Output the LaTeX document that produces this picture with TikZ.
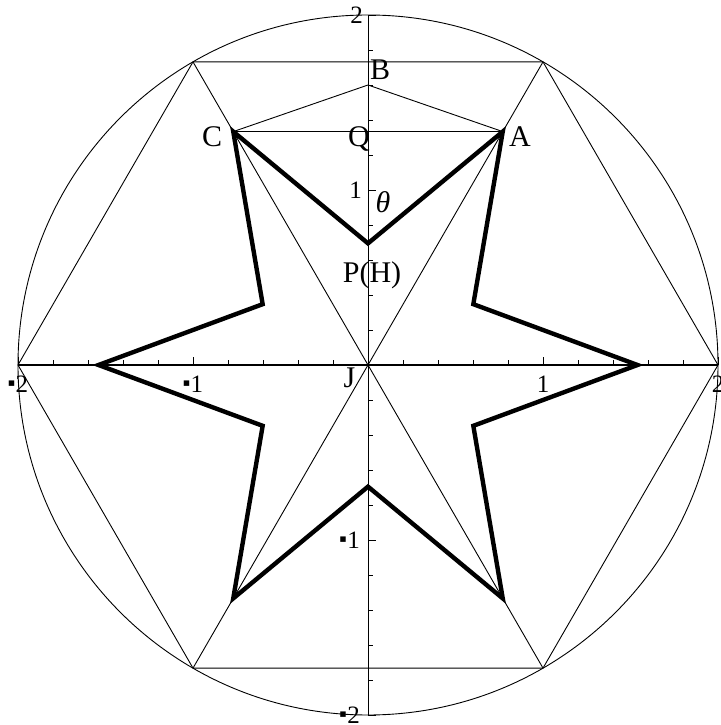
\documentclass[tikz,border=0pt]{standalone}
\usepackage{fontspec}
\setmainfont{Liberation Serif}
\newfontfamily\dejavu{DejaVu Sans}
\newcommand\mns{\raisebox{6pt}{\dejavu\fontsize{11}{11}\selectfont ▪}\hspace{0.5pt}}
\begin{document}
\begin{tikzpicture}[x=175pt,y=175pt,
  thinline/.style={line width=0.9pt},
  starline/.style={line width=4.4pt, line join=miter},
  axisline/.style={line width=1.2pt},
  ptlabel/.style={font=\fontsize{30}{30}\selectfont, inner sep=0pt, anchor=base},
  ticklabel/.style={font=\fontsize{25}{25}\selectfont, inner sep=0pt},
]
\useasboundingbox (-2.10286,-2.05714) rectangle (2.01143,2.08571);
% hexagon vertices
\foreach \k in {0,...,5} {\coordinate (H\k) at (\k*60:2);}
% star vertices
\foreach \k in {0,...,5} {
  \coordinate (So\k) at (\k*60:1.54);
  \coordinate (Si\k) at (\k*60+30:0.695);
}
\coordinate (A) at (So1);
\coordinate (C) at (So2);
\coordinate (P) at (Si1);
\coordinate (B) at (0,1.6);
\coordinate (J) at (0,0);
\coordinate (Xl) at (-2,0);
\coordinate (Xr) at (2,0);
\coordinate (Yb) at (0,-2);
\coordinate (Yt) at (0,2);
% circle
\draw[thinline] (J) circle (2);
% hexagon
\draw[thinline] (H0) -- (H1) -- (H2) -- (H3) -- (H4) -- (H5) -- cycle;
% diameters
\draw[thinline] (H1) -- (H4);
\draw[thinline] (H2) -- (H5);
% triangle CBA
\draw[thinline] (C) -- (B) -- (A);
\draw[thinline] (C) -- (A);
% axes
\draw[axisline] (Xl) -- (Xr);
\draw[thinline] (Yb) -- (Yt);
\foreach \t in {-1.8,-1.6,-1.4,-1.2,-0.8,-0.6,-0.4,-0.2,0.2,0.4,0.6,0.8,1.2,1.4,1.6,1.8} {
  \draw[thinline] (\t,0) -- ++(0,4.5pt);
  \draw[thinline] (0,\t) -- ++(4.5pt,0);
}
\foreach \t in {-2,-1,1,2} {
  \draw[thinline] (\t,0) -- ++(0,7.5pt);
  \draw[thinline] (0,\t) -- ++(7.5pt,0);
}
% star
\draw[starline] (So0) -- (Si0) -- (So1) -- (Si1) -- (So2) -- (Si2) -- (So3) -- (Si3) -- (So4) -- (Si4) -- (So5) -- (Si5) -- cycle;
% tick labels
\node[ticklabel, anchor=north, yshift=-11pt] (xm2) at (-2,0) {\mns2};
\node[ticklabel, anchor=north, yshift=-11pt] (xm1) at (-1,0) {\mns1};
\node[ticklabel, anchor=north, yshift=-11pt] (xp1) at (1,0) {1};
\node[ticklabel, anchor=north, yshift=-11pt] (xp2) at (2,0) {2};
\node[ticklabel, anchor=east, xshift=-5pt] (yp2) at (0,2) {2};
\node[ticklabel, anchor=east, xshift=-6pt] (yp1) at (0,1) {1};
\node[ticklabel, anchor=east, xshift=-8pt] (ym1) at (0,-1) {\mns1};
\node[ticklabel, anchor=east, xshift=-8pt] (ym2) at (0,-2) {\mns2};
% point labels
\node[ptlabel] (lB) at (0.0686,1.634) {B};
\node[ptlabel] (lQ) at (-0.0514,1.246) {Q};
\node[ptlabel] (lA) at (0.869,1.251) {A};
\node[ptlabel] (lC) at (-0.891,1.251) {C};
\node[ptlabel] (lT) at (0.0857,0.869) {\textit{θ}};
\node[ptlabel] (lP) at (0.023,0.469) {P(H)};
\node[ptlabel] (lJ) at (-0.106,-0.13) {J};
\end{tikzpicture}
\end{document}
